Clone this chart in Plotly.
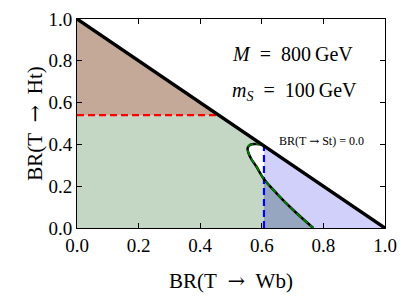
import numpy as np
import plotly.graph_objects as go

# ---- data ----
diag_x = [0.0, 1.0]
diag_y = [1.0, 0.0]
br_ht_limit = 0.54      # red dashed line
br_wb_limit = 0.607     # blue dashed line
cont_x = [0.600, 0.580, 0.562, 0.554, 0.556, 0.566, 0.583, 0.605, 0.648, 0.702, 0.767]
cont_y = [0.400, 0.402, 0.398, 0.382, 0.362, 0.330, 0.293, 0.238, 0.166, 0.086, 0.000]
x_ticks = [0.0, 0.2, 0.4, 0.6, 0.8, 1.0]
y_ticks = [0.0, 0.2, 0.4, 0.6, 0.8, 1.0]

FONT = "Liberation Serif, DejaVu Serif, serif"
ARROW = '<span style="font-family:DejaVu Serif">→</span>'
SP = "\u2002"
h = br_ht_limit
w = br_wb_limit

fig = go.Figure()

# green region: below h, below diagonal, outside the contour loop
gx = [0, 0, 1 - h] + cont_x + [0]
gy = [0, h, h] + cont_y + [0]
fig.add_trace(go.Scatter(x=gx, y=gy, fill="toself", fillcolor="#c4d6c4",
                         line=dict(width=0), mode="lines", hoverinfo="skip"))
# brown region: above h, below diagonal
fig.add_trace(go.Scatter(x=[0, 0, 1 - h, 0], y=[h, 1, h, h], fill="toself",
                         fillcolor="#c4a898", line=dict(width=0), mode="lines",
                         hoverinfo="skip"))
# lavender region: x > w, below diagonal
fig.add_trace(go.Scatter(x=[w, w, 1, w], y=[0, 1 - w, 0, 0], fill="toself",
                         fillcolor="#d0d0fa", line=dict(width=0), mode="lines",
                         hoverinfo="skip"))
# overlap region: x > w, below lower contour branch
i_left = int(np.argmin(cont_x))
lx = np.array(cont_x[i_left:])
ly = np.array(cont_y[i_left:])
yw = float(np.interp(w, lx, ly))
mask = lx > w
ox = [w] + list(lx[mask]) + [w, w]
oy = [yw] + list(ly[mask]) + [0, yw]
fig.add_trace(go.Scatter(x=ox, y=oy, fill="toself", fillcolor="#96a6c0",
                         line=dict(width=0), mode="lines", hoverinfo="skip"))

# red dashed
fig.add_trace(go.Scatter(x=[0, 1 - h], y=[h, h], mode="lines",
                         line=dict(color="red", width=2.2, dash="7px,4px")))
# blue dashed
fig.add_trace(go.Scatter(x=[w, w], y=[0, 1 - w], mode="lines",
                         line=dict(color="blue", width=2.2, dash="7px,4px")))
# contour: black + green dashed
fig.add_trace(go.Scatter(x=cont_x, y=cont_y, mode="lines",
                         line=dict(color="black", width=2.5, shape="spline")))
fig.add_trace(go.Scatter(x=cont_x, y=cont_y, mode="lines",
                         line=dict(color="green", width=1.8, dash="6px,3px", shape="spline")))
# diagonal
fig.add_trace(go.Scatter(x=diag_x, y=diag_y, mode="lines",
                         line=dict(color="black", width=3.5)))

fig.add_annotation(x=0.498, y=0.833, xref="x", yref="y", xanchor="left", yanchor="middle",
                   text=f"<i>M</i>{SP}={SP}800\u2009GeV", showarrow=False,
                   font=dict(family=FONT, size=20, color="black"))
fig.add_annotation(x=0.498, y=0.651, xref="x", yref="y", xanchor="left", yanchor="middle",
                   text=f"<i>m<sub>S</sub></i>{SP}={SP}100\u2009GeV", showarrow=False,
                   font=dict(family=FONT, size=20, color="black"))
fig.add_annotation(x=0.648, y=0.418, xref="x", yref="y", xanchor="left", yanchor="middle",
                   text=f"BR(T {ARROW} St) = 0.0", showarrow=False,
                   font=dict(family=FONT, size=12, color="black"))

axis_common = dict(showgrid=False, zeroline=False, showline=True, linecolor="black",
                   linewidth=1, mirror="ticks", ticks="inside", ticklen=5,
                   tickcolor="black", range=[0, 1], automargin=False,
                   tickfont=dict(family=FONT, size=19, color="black"))
fig.update_xaxes(**axis_common, tickvals=x_ticks,
                 ticktext=[f"{v:.1f}" for v in x_ticks],
                 title=dict(text=f"BR(T{SP}{ARROW}{SP}Wb)",
                            font=dict(family=FONT, size=21, color="black"),
                            standoff=18))
fig.update_yaxes(**axis_common, tickvals=y_ticks,
                 ticktext=[f"{v:.1f}" for v in y_ticks],
                 title=dict(text=f"BR(T{SP}{ARROW}{SP}Ht)",
                            font=dict(family=FONT, size=21, color="black"),
                            standoff=0))

# page body has an 8px default margin, compensate in size/margins
fig.update_layout(width=399, height=292, showlegend=False,
                  margin=dict(l=69, r=22, t=11, b=72, autoexpand=False),
                  plot_bgcolor="white", paper_bgcolor="white")

fig.write_html("out.html")
